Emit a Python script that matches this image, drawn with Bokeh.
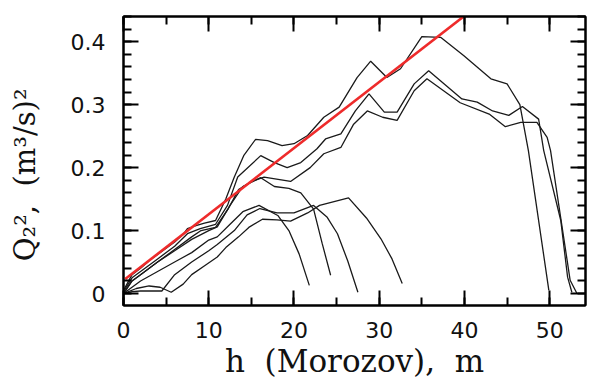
from bokeh.plotting import figure
from bokeh.models import LinearAxis, Range1d, SingleIntervalTicker, FixedTicker
from bokeh.embed import file_html
from bokeh.resources import INLINE

# ---- data ----
a_x = [0, 1, 2, 3, 4, 5, 6, 7, 7.5, 8.5, 9.5, 10.8, 12.0, 13.0, 14.1, 15.5, 16.9, 18.6, 20.0, 21.6, 23.5, 25.3, 27.4, 29.0, 30.9, 32.5, 35.0, 37.2, 39.9, 43.1, 45.0, 46.5, 47.5, 49.9]
a_y = [0.005, 0.030, 0.040, 0.052, 0.062, 0.072, 0.082, 0.094, 0.103, 0.108, 0.112, 0.116, 0.150, 0.185, 0.219, 0.245, 0.243, 0.235, 0.238, 0.251, 0.280, 0.296, 0.343, 0.369, 0.343, 0.357, 0.408, 0.407, 0.378, 0.341, 0.333, 0.300, 0.227, 0.005]

b_x = [0, 1, 2, 4, 6, 7.5, 9, 10.8, 12.2, 13.4, 16.1, 17.7, 19.2, 20.8, 22.7, 23.7, 25.5, 27.2, 28.8, 30.6, 32.1, 34.1, 35.8, 39.7, 41.5, 43.3, 45.2, 46.8, 48.7, 49.3, 51.3, 52.1, 52.6]
b_y = [0.003, 0.025, 0.035, 0.055, 0.075, 0.095, 0.103, 0.110, 0.140, 0.185, 0.219, 0.208, 0.200, 0.208, 0.230, 0.2455, 0.2535, 0.290, 0.317, 0.288, 0.288, 0.333, 0.354, 0.309, 0.304, 0.290, 0.283, 0.297, 0.277, 0.227, 0.116, 0.026, 0.002]

c_x = [0, 1, 2, 4, 6, 8, 9.1, 10.8, 12.3, 13.5, 15.0, 16.5, 19.6, 21.9, 23.5, 25.5, 27.0, 28.6, 30.4, 32.1, 34.1, 35.6, 39.5, 42.9, 44.8, 46.6, 48.5, 49.7, 50.1, 52.4, 53.2]
c_y = [0.0, 0.020, 0.030, 0.050, 0.070, 0.090, 0.100, 0.105, 0.135, 0.165, 0.178, 0.185, 0.178, 0.200, 0.222, 0.232, 0.269, 0.290, 0.280, 0.275, 0.322, 0.341, 0.303, 0.285, 0.265, 0.272, 0.272, 0.248, 0.227, 0.021, 0.0]

d_x = [0, 1, 2, 4, 6, 8, 10, 11, 12.5, 14.0, 16.1, 17.7, 19.4, 20.8, 22.3, 23.3, 24.3]
d_y = [0.0, 0.020, 0.030, 0.050, 0.068, 0.086, 0.100, 0.106, 0.140, 0.170, 0.184, 0.170, 0.167, 0.160, 0.134, 0.080, 0.029]

e_x = [0, 1, 2, 4, 6, 8, 10, 11, 12.5, 14.0, 15.9, 18.1, 19.4, 20.6, 21.8]
e_y = [0.0, 0.010, 0.020, 0.035, 0.050, 0.065, 0.085, 0.090, 0.110, 0.130, 0.140, 0.124, 0.100, 0.063, 0.013]

g_x = [0, 1, 2, 4.5, 6, 8, 10, 11, 13.0, 14.5, 16.0, 18.0, 20.0, 22.3, 23.9, 25.1, 26.3, 27.5]
g_y = [0.0, 0.003, 0.004, 0.004, 0.030, 0.050, 0.068, 0.078, 0.100, 0.125, 0.135, 0.128, 0.128, 0.140, 0.121, 0.095, 0.052, 0.002]

f_x = [0, 1.5, 3.0, 4.3, 5.6, 7.0, 8.0, 9.6, 11.0, 12.0, 13.5, 14.7, 16.3, 18.0, 19.6, 21.6, 23.0, 26.4, 28.5, 30.2, 31.5, 32.7]
f_y = [0.0, 0.008, 0.012, 0.010, 0.002, 0.015, 0.030, 0.045, 0.058, 0.073, 0.090, 0.105, 0.118, 0.117, 0.115, 0.128, 0.140, 0.152, 0.120, 0.087, 0.055, 0.016]

fit_x = [0.2, 42.0]
fit_y = [0.023, 0.462]

black_series = [(a_x, a_y), (b_x, b_y), (c_x, c_y), (d_x, d_y), (e_x, e_y), (g_x, g_y), (f_x, f_y)]

y_major = [0, 0.1, 0.2, 0.3, 0.4]
y_minor = [i * 0.02 for i in range(0, 23)]

# ---- figure ----
p = figure(frame_width=462, frame_height=289,
           x_range=Range1d(0, 54.2), y_range=Range1d(-0.019, 0.44),
           output_backend="svg", toolbar_location=None,
           min_border_left=123, min_border_right=6, min_border_top=16, min_border_bottom=74,
           background_fill_color="white", border_fill_color="white")
p.xgrid.grid_line_color = None
p.ygrid.grid_line_color = None
p.outline_line_color = "black"
p.outline_line_width = 2

for xs, ys in black_series:
    p.line(xs, ys, line_color="#1a1a1a", line_width=1.3)
p.line(fit_x, fit_y, line_color="#ee2b2b", line_width=2.6)

def style(ax, ticker, labels=True):
    ax.ticker = ticker
    ax.axis_line_width = 2
    ax.axis_line_color = "black"
    ax.major_tick_in = 15
    ax.major_tick_out = 0
    ax.minor_tick_in = 8
    ax.minor_tick_out = 0
    ax.major_tick_line_width = 2
    ax.minor_tick_line_width = 2
    ax.major_tick_line_color = "black"
    ax.minor_tick_line_color = "black"
    if labels:
        ax.major_label_text_font = "DejaVu Sans"
        ax.major_label_text_font_size = "22px"
        ax.major_label_text_color = "#111111"
    else:
        ax.major_label_text_color = None
        ax.major_label_text_alpha = 0
        ax.major_label_standoff = 0

style(p.xaxis[0], SingleIntervalTicker(interval=10, num_minor_ticks=2))
style(p.yaxis[0], FixedTicker(ticks=y_major, minor_ticks=y_minor))
p.xaxis[0].major_label_standoff = 16
p.yaxis[0].major_label_standoff = 18
p.yaxis[0].major_label_overrides = {0: "0"}

p.xaxis[0].axis_label = "h\u00a0 (Morozov),\u00a0 m"
p.yaxis[0].axis_label = "Q\u2082\u00b2,\u00a0 (m\u00b3/s)\u00b2\u00a0\u00a0\u00a0"
for ax in (p.xaxis[0], p.yaxis[0]):
    ax.axis_label_text_font = "DejaVu Serif"
    ax.axis_label_text_font_style = "normal"
    ax.axis_label_text_color = "#111111"
p.xaxis[0].axis_label_text_font_size = "31px"
p.yaxis[0].axis_label_text_font_size = "29px"
p.xaxis[0].axis_label_standoff = 2
p.yaxis[0].axis_label_standoff = 26

top = LinearAxis()
style(top, SingleIntervalTicker(interval=10, num_minor_ticks=2), labels=False)
right = LinearAxis()
style(right, FixedTicker(ticks=y_major, minor_ticks=y_minor), labels=False)
p.add_layout(top, "above")
p.add_layout(right, "right")

open("out.html", "w").write(file_html(p, INLINE))
